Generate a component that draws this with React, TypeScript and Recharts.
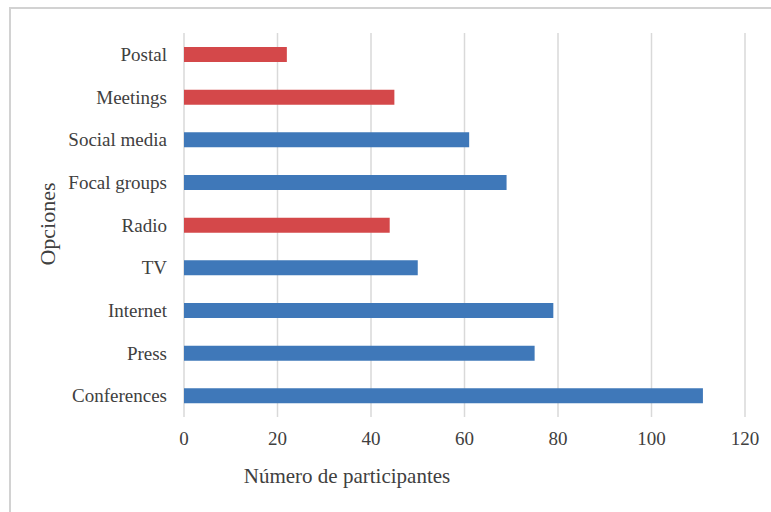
import { BarChart, Bar, XAxis, YAxis, CartesianGrid, Cell, Label } from "recharts";

const categories = [
  "Postal",
  "Meetings",
  "Social media",
  "Focal groups",
  "Radio",
  "TV",
  "Internet",
  "Press",
  "Conferences",
];
const participants = [22, 45, 61, 69, 44, 50, 79, 75, 111];
const highlighted = ["Postal", "Meetings", "Radio"];
const xTicks = [0, 20, 40, 60, 80, 100, 120];

const data = categories.map((name, i) => ({ name, value: participants[i] }));

const RED = "#d4484a";
const BLUE = "#3f78b9";
const TEXT = "#404040";
const FONT = "'Liberation Serif', 'Times New Roman', serif";

export default function App() {
  return (
    <div style={{ position: "fixed", left: 0, top: 0, width: 771, height: 512, overflow: "hidden", background: "#fff" }}>
      <div
        style={{
          position: "absolute",
          left: 9,
          top: 7,
          width: 820,
          height: 560,
          borderTop: "2px solid #d2d2d2",
          borderLeft: "2px solid #d2d2d2",
        }}
      />
      <div style={{ position: "absolute", left: 0, top: 0 }}>
        <BarChart
          width={771}
          height={512}
          data={data}
          layout="vertical"
          margin={{ top: 33, right: 26, bottom: 0, left: 0 }}
          barSize={15}
        >
          <CartesianGrid horizontal={false} stroke="#d9d9d9" strokeWidth={1.5} />
          <XAxis
            type="number"
            domain={[0, 120]}
            ticks={xTicks}
            axisLine={false}
            tickLine={false}
            tickSize={0}
            tickMargin={15}
            height={95}
            tick={{ fill: TEXT, fontSize: 19, fontFamily: FONT }}
          >
            <Label
              content={() => (
                <text x={347} y={483} textAnchor="middle" fill={TEXT} fontSize={21} fontFamily={FONT}>
                  Número de participantes
                </text>
              )}
            />
          </XAxis>
          <YAxis
            type="category"
            dataKey="name"
            width={184}
            axisLine={false}
            tickLine={false}
            tickSize={0}
            tickMargin={17}
            interval={0}
            tick={{ fill: TEXT, fontSize: 19, fontFamily: FONT }}
          >
            <Label
              content={() => (
                <text
                  x={55}
                  y={224}
                  transform="rotate(-90 55 224)"
                  textAnchor="middle"
                  fill={TEXT}
                  fontSize={22}
                  fontFamily={FONT}
                >
                  Opciones
                </text>
              )}
            />
          </YAxis>
          <Bar dataKey="value" isAnimationActive={false}>
            {data.map((d) => (
              <Cell key={d.name} fill={highlighted.includes(d.name) ? RED : BLUE} />
            ))}
          </Bar>
        </BarChart>
      </div>
    </div>
  );
}
